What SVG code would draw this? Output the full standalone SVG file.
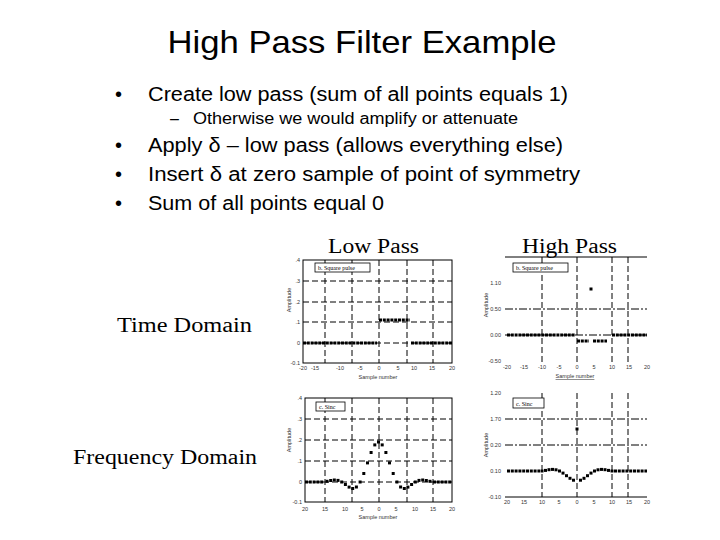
<svg xmlns="http://www.w3.org/2000/svg" xmlns:xlink="http://www.w3.org/1999/xlink" width="720" height="540" viewBox="0 0 720 540">
<style>
.t{font-family:"Liberation Sans",Arial,sans-serif;fill:#000}
.s{font-family:"Liberation Serif","Times New Roman",serif;fill:#000}
.ax{fill:none;stroke:#000;stroke-width:1}
.g{stroke:#000;stroke-width:1;stroke-dasharray:6 3}
.gd{stroke:#000;stroke-width:1;stroke-dasharray:8 2 2 2}
.z{stroke:#000;stroke-width:3;stroke-dasharray:3 0.8}
.tk{font-family:"Liberation Sans",Arial,sans-serif;font-size:5.5px;fill:#333}
.lg{fill:#fff;stroke:#000;stroke-width:0.8}
.lt{font-family:"Liberation Serif",serif;font-size:6px;fill:#000}
</style>
<defs><rect id="d" x="-1.5" y="-1.5" width="3" height="3" fill="#000"/></defs>
<rect width="720" height="540" fill="#fff"/>
<g id="title"><text class="t" x="362" y="53" font-size="32" text-anchor="middle" textLength="389" lengthAdjust="spacingAndGlyphs">High Pass Filter Example</text></g>
<g id="bullets" class="t" font-size="20">
<text x="115" y="101">•</text><text x="148" y="101" textLength="420" lengthAdjust="spacingAndGlyphs">Create low pass (sum of all points equals 1)</text>
<text x="170" y="124" font-size="16">–</text><text x="193" y="124" font-size="16" textLength="325" lengthAdjust="spacingAndGlyphs">Otherwise we would amplify or attenuate</text>
<text x="115" y="152">•</text><text x="148" y="152" textLength="415" lengthAdjust="spacingAndGlyphs">Apply δ – low pass (allows everything else)</text>
<text x="115" y="181">•</text><text x="148" y="181" textLength="432" lengthAdjust="spacingAndGlyphs">Insert δ at zero sample of point of symmetry</text>
<text x="115" y="210">•</text><text x="148" y="210" textLength="236" lengthAdjust="spacingAndGlyphs">Sum of all points equal 0</text>
</g>
<g id="labels" class="s" font-size="20">
<text x="328" y="253" textLength="91" lengthAdjust="spacingAndGlyphs">Low Pass</text>
<text x="522" y="253" textLength="95" lengthAdjust="spacingAndGlyphs">High Pass</text>
<text x="117" y="332" textLength="135" lengthAdjust="spacingAndGlyphs">Time Domain</text>
<text x="73" y="464" textLength="184" lengthAdjust="spacingAndGlyphs">Frequency Domain</text>
</g>
<g id="plot-lp-time">
<rect class="ax" x="303" y="260" width="149" height="103"/>
<line class="g" x1="325" y1="260" x2="325" y2="363"/><line class="g" x1="352" y1="260" x2="352" y2="363"/><line class="g" x1="379" y1="260" x2="379" y2="363"/><line class="g" x1="407" y1="260" x2="407" y2="363"/><line class="g" x1="433" y1="260" x2="433" y2="363"/>
<line class="g" x1="303" y1="281" x2="452" y2="281"/><line class="g" x1="303" y1="302" x2="452" y2="302"/><line class="g" x1="303" y1="322" x2="452" y2="322"/><line class="g" x1="303" y1="343" x2="452" y2="343"/>
<line class="z" x1="303" y1="343" x2="377" y2="343"/><line class="z" x1="411" y1="343" x2="452" y2="343"/><line class="z" x1="379" y1="320" x2="410" y2="320"/>
<rect class="lg" x="315" y="263" width="55" height="9"/><text class="lt" x="318" y="270">b. Square pulse</text>
<g class="tk" text-anchor="end"><text x="300" y="262">.4</text><text x="300" y="283">.3</text><text x="300" y="304">.2</text><text x="300" y="324">.1</text><text x="300" y="345">0</text><text x="300" y="365">-0.1</text></g>
<g class="tk" text-anchor="middle"><text x="303" y="370">-20</text><text x="315" y="370">-15</text><text x="340" y="370">-10</text><text x="360" y="370">-5</text><text x="379" y="370">0</text><text x="398" y="370">5</text><text x="414" y="370">10</text><text x="432" y="370">15</text><text x="452" y="370">20</text></g>
<text class="tk" x="378" y="379" text-anchor="middle" font-size="6.5">Sample number</text>
<text class="tk" transform="translate(291 300) rotate(-90)" text-anchor="middle" font-size="6.5">Amplitude</text>
</g>
<g id="plot-hp-time">
<line class="ax" x1="505" y1="257" x2="647" y2="257"/>
<line class="g" x1="542" y1="257" x2="542" y2="362"/><line class="g" x1="577" y1="257" x2="577" y2="362"/><line class="g" x1="612" y1="257" x2="612" y2="362"/><line class="g" x1="628" y1="257" x2="628" y2="362"/>
<line class="gd" x1="505" y1="309" x2="647" y2="309"/><line class="gd" x1="505" y1="335" x2="647" y2="335"/>
<line class="z" x1="507" y1="335" x2="575" y2="335"/><line class="z" x1="612" y1="335" x2="647" y2="335"/>
<line class="z" x1="577" y1="341" x2="589" y2="341"/><line class="z" x1="593" y1="341" x2="607" y2="341"/>
<use xlink:href="#d" x="591" y="289"/>
<rect class="lg" x="513" y="263" width="55" height="9"/><text class="lt" x="516" y="270">b. Square pulse</text>
<g class="tk" text-anchor="end"><text x="501" y="285">1.10</text><text x="501" y="311">0.50</text><text x="501" y="337">0.00</text><text x="501" y="363">-0.50</text></g>
<g class="tk" text-anchor="middle"><text x="507" y="369">-20</text><text x="524" y="369">-15</text><text x="542" y="369">-10</text><text x="559" y="369">-5</text><text x="577" y="369">0</text><text x="594" y="369">5</text><text x="612" y="369">10</text><text x="629" y="369">15</text><text x="647" y="369">20</text></g>
<text class="tk" x="575" y="378" text-anchor="middle" font-size="6.5" text-decoration="underline">Sample number</text>
<text class="tk" transform="translate(488 305) rotate(-90)" text-anchor="middle" font-size="6.5">Amplitude</text>
</g>
<g id="plot-lp-freq">
<rect class="ax" x="305" y="398" width="147" height="104"/>
<line class="g" x1="325" y1="398" x2="325" y2="502"/><line class="g" x1="352" y1="398" x2="352" y2="502"/><line class="g" x1="379" y1="398" x2="379" y2="502"/><line class="g" x1="407" y1="398" x2="407" y2="502"/><line class="g" x1="433" y1="398" x2="433" y2="502"/>
<line class="g" x1="305" y1="419" x2="452" y2="419"/><line class="g" x1="305" y1="440" x2="452" y2="440"/><line class="g" x1="305" y1="461" x2="452" y2="461"/><line class="g" x1="305" y1="482" x2="452" y2="482"/>
<line class="z" x1="305" y1="482" x2="324" y2="482"/><line class="z" x1="433" y1="482" x2="452" y2="482"/>
<use xlink:href="#d" x="327" y="481.3"/><use xlink:href="#d" x="330.7" y="480.5"/><use xlink:href="#d" x="334.3" y="480"/><use xlink:href="#d" x="338" y="480.4"/><use xlink:href="#d" x="341.7" y="482"/><use xlink:href="#d" x="345.4" y="484.5"/><use xlink:href="#d" x="349.1" y="487.1"/><use xlink:href="#d" x="352.7" y="488.5"/><use xlink:href="#d" x="356.4" y="487"/><use xlink:href="#d" x="360.1" y="482"/><use xlink:href="#d" x="363.8" y="473.5"/><use xlink:href="#d" x="367.5" y="462.9"/><use xlink:href="#d" x="371.1" y="452.5"/><use xlink:href="#d" x="374.8" y="444.9"/><use xlink:href="#d" x="378.5" y="442"/>
<use xlink:href="#d" x="382.2" y="444.9"/><use xlink:href="#d" x="385.9" y="452.5"/><use xlink:href="#d" x="389.5" y="462.9"/><use xlink:href="#d" x="393.2" y="473.5"/><use xlink:href="#d" x="396.9" y="482"/><use xlink:href="#d" x="400.6" y="487"/><use xlink:href="#d" x="404.3" y="488.5"/><use xlink:href="#d" x="407.9" y="487.1"/><use xlink:href="#d" x="411.6" y="484.5"/><use xlink:href="#d" x="415.3" y="482"/><use xlink:href="#d" x="419" y="480.4"/><use xlink:href="#d" x="422.7" y="480"/><use xlink:href="#d" x="426.3" y="480.5"/><use xlink:href="#d" x="430" y="481.3"/>
<rect class="lg" x="316" y="402" width="29" height="9"/><text class="lt" x="319" y="409">c. Sinc</text>
<g class="tk" text-anchor="end"><text x="302" y="400">.4</text><text x="302" y="421">.3</text><text x="302" y="442">.2</text><text x="302" y="463">.1</text><text x="302" y="484">0</text><text x="302" y="504">-0.1</text></g>
<g class="tk" text-anchor="middle"><text x="305" y="511">20</text><text x="325" y="511">15</text><text x="345" y="511">10</text><text x="362" y="511">5</text><text x="379" y="511">0</text><text x="396" y="511">5</text><text x="415" y="511">10</text><text x="433" y="511">15</text><text x="452" y="511">20</text></g>
<text class="tk" x="378" y="519" text-anchor="middle" font-size="6.5">Sample number</text>
<text class="tk" transform="translate(291 440) rotate(-90)" text-anchor="middle" font-size="6.5">Amplitude</text>
</g>
<g id="plot-hp-freq">
<line class="g" x1="542" y1="393" x2="542" y2="497"/><line class="g" x1="577" y1="393" x2="577" y2="497"/><line class="g" x1="612" y1="393" x2="612" y2="497"/><line class="g" x1="628" y1="393" x2="628" y2="497"/>
<line class="gd" x1="505" y1="419" x2="647" y2="419"/><line class="gd" x1="505" y1="445" x2="647" y2="445"/>
<line class="z" x1="507" y1="471" x2="540" y2="471"/><line class="z" x1="614" y1="471" x2="647" y2="471"/>
<use xlink:href="#d" x="542" y="471"/><use xlink:href="#d" x="545.5" y="470.4"/><use xlink:href="#d" x="549" y="469.7"/><use xlink:href="#d" x="552.5" y="469.4"/><use xlink:href="#d" x="556" y="469.8"/><use xlink:href="#d" x="559.5" y="471"/><use xlink:href="#d" x="563" y="473.1"/><use xlink:href="#d" x="566.5" y="475.7"/><use xlink:href="#d" x="570" y="478.3"/><use xlink:href="#d" x="573.5" y="480.2"/>
<use xlink:href="#d" x="577" y="429"/>
<use xlink:href="#d" x="580.5" y="480.2"/><use xlink:href="#d" x="584" y="478.3"/><use xlink:href="#d" x="587.5" y="475.7"/><use xlink:href="#d" x="591" y="473.1"/><use xlink:href="#d" x="594.5" y="471"/><use xlink:href="#d" x="598" y="469.8"/><use xlink:href="#d" x="601.5" y="469.4"/><use xlink:href="#d" x="605" y="469.7"/><use xlink:href="#d" x="608.5" y="470.4"/><use xlink:href="#d" x="612" y="471"/>
<line class="ax" x1="505" y1="497" x2="647" y2="497"/>
<rect class="lg" x="513" y="398" width="31" height="10"/><text class="lt" x="516" y="405.5">c. Sinc</text>
<g class="tk" text-anchor="end"><text x="501" y="395">1.20</text><text x="501" y="421">1.70</text><text x="501" y="447">0.20</text><text x="501" y="473">0.10</text><text x="501" y="499">-0.10</text></g>
<g class="tk" text-anchor="middle" fill="#888"><text x="507" y="504">20</text><text x="524" y="504">15</text><text x="542" y="504">10</text><text x="559" y="504">5</text><text x="577" y="504">0</text><text x="594" y="504">5</text><text x="612" y="504">10</text><text x="629" y="504">15</text><text x="647" y="504">20</text></g>
<text class="tk" transform="translate(488 445) rotate(-90)" text-anchor="middle" font-size="6.5">Amplitude</text>
</g>
</svg>
